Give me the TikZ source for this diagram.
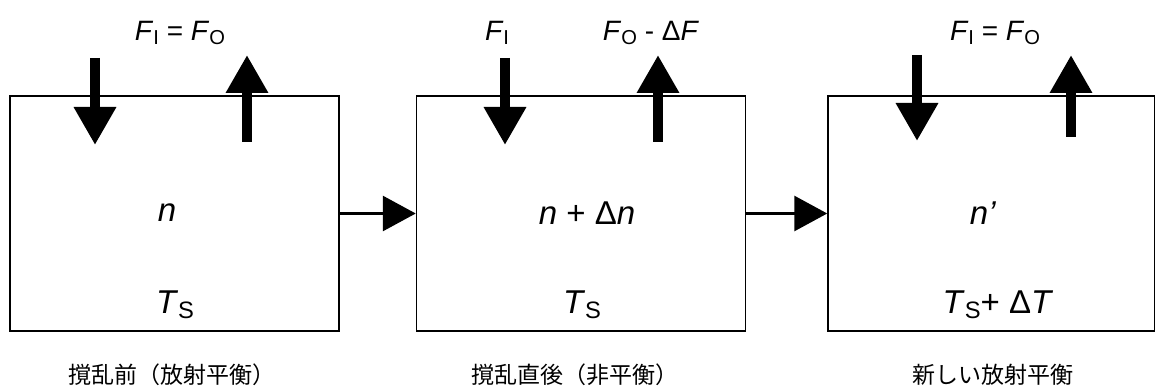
\documentclass[tikz,border=0pt]{standalone}
\usepackage{fontspec}
\usepackage{graphicx}
\setmainfont{Liberation Sans}
\newfontfamily\jp{Noto Sans CJK JP}
\usetikzlibrary{arrows.meta,positioning}
\newcommand{\sub}[1]{\raisebox{-0.3ex}{\scalebox{0.72}{\upshape #1}}}
\begin{document}
\begin{tikzpicture}[x=1pt, y=-1pt]
        \tikzset{box/.style={rectangle, draw, line width=1.5pt, minimum width=329pt, minimum height=235pt},
                 flux/.style={line width=10pt, -{Triangle[width=40pt,length=38pt]}},
                 flow/.style={line width=3pt, -{Triangle[width=35pt,length=33pt]}},
                 toplab/.style={font=\fontsize{28}{32}\selectfont},
                 midlab/.style={font=\fontsize{33}{38}\selectfont},
                 caption/.style={font=\jp\fontsize{23}{27}\selectfont}}
        \useasboundingbox (0,0) rectangle (1155,390);
        % boxes
        \node[box] (b1) at (174.5,213.5) {};
        \node[box, right=76pt of b1] (b2) {};
        \node[box, minimum width=327pt, right=81pt of b2] (b3) {};
        \draw[flow] (b1.east) -- (b2.west);
        \draw[flow] (b2.east) -- (b3.west);
        % fluxes in and out
        \coordinate (in1a) at (95,58);    \coordinate (in1b) at (95,145);
        \coordinate (out1a) at (247,142); \coordinate (out1b) at (247,55);
        \coordinate (in2a) at (505,58);   \coordinate (in2b) at (505,145);
        \coordinate (out2a) at (658,142); \coordinate (out2b) at (658,55);
        \coordinate (in3a) at (917,55);   \coordinate (in3b) at (917,141);
        \coordinate (out3a) at (1071,137); \coordinate (out3b) at (1071,55);
        \draw[flux] (in1a) -- (in1b);
        \draw[flux] (out1a) -- (out1b);
        \draw[flux] (in2a) -- (in2b);
        \draw[flux] (out2a) -- (out2b);
        \draw[flux] (in3a) -- (in3b);
        \draw[flux] (out3a) -- (out3b);
        % labels
        \node[toplab] (f1) at (180,33) {\textit{F}\sub{I} = \textit{F}\sub{O}};
        \node[toplab] (f2) at (497,33) {\textit{F}\sub{I}};
        \node[toplab] (f3) at (651,33) {\textit{F}\sub{O} - Δ\textit{F}};
        \node[toplab] (f4) at (995,33) {\textit{F}\sub{I} = \textit{F}\sub{O}};
        \node[midlab] (n1) at (167,213) {\textit{n}};
        \node[midlab] (n2) at (587,213) {\textit{n} + Δ\textit{n}};
        \node[midlab] (n3) at (983,213) {\textit{n'}};
        \node[midlab] (t1) at (175,305) {\textit{T}\sub{S}};
        \node[midlab] (t2) at (582,305) {\textit{T}\sub{S}};
        \node[midlab] (t3) at (998,305) {\textit{T}\sub{S}+ Δ\textit{T}};
        \node[caption] (c1) at (172,375) {撹乱前（放射平衡）};
        \node[caption] (c2) at (575,375) {撹乱直後（非平衡）};
        \node[caption] (c3) at (993,375) {新しい放射平衡};
\end{tikzpicture}
\end{document}
